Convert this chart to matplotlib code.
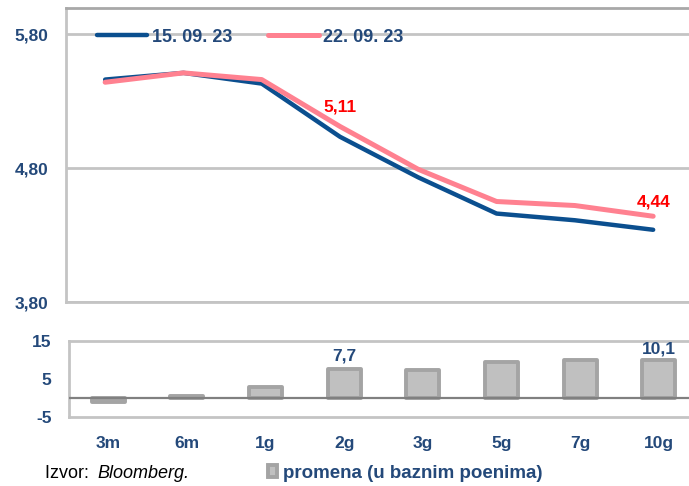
import matplotlib.pyplot as plt
import numpy as np

plt.rcParams['font.family'] = ['Liberation Sans', 'DejaVu Sans']

# tenors and yields
tenors = ["3m", "6m", "1g", "2g", "3g", "5g", "7g", "10g"]
yld_0915 = [5.46, 5.51, 5.43, 5.033, 4.73, 4.46, 4.41, 4.339]
yld_0922 = [5.44, 5.51, 5.46, 5.11, 4.79, 4.55, 4.52, 4.44]
change_bp = [-1.0, 0.5, 3.0, 7.7, 7.4, 9.5, 10.0, 10.1]

blue = "#0b4f8f"
pink = "#ff8190"
txt = "#24497a"
grid = "#c4c4c4"

fig = plt.figure(figsize=(6.89, 4.86), dpi=100)
x = np.arange(len(tenors))

# top panel - yield curves
ax = fig.add_axes([0.0958, 0.3786, 0.909, 0.6049])
ax.plot(x, yld_0915, color=blue, lw=3.2, solid_capstyle="round", label="15. 09. 23", zorder=3)
ax.plot(x, yld_0922, color=pink, lw=3.6, solid_capstyle="round", label="22. 09. 23", zorder=4)
ax.set_xlim(-0.5, len(tenors) - 0.5)
ax.set_ylim(3.8, 5.994)
ax.set_yticks([3.8, 4.8, 5.8])
ax.set_yticklabels(["3,80", "4,80", "5,80"])
ax.set_xticks([])
ax.grid(axis="y", color=grid, lw=2)
ax.set_axisbelow(True)
ax.spines["right"].set_visible(False)
for s in ["left", "bottom"]:
    ax.spines[s].set_color(grid)
    ax.spines[s].set_linewidth(2)
ax.spines["top"].set_color("#a8a8a8")
ax.spines["top"].set_linewidth(2)
ax.tick_params(axis="y", length=0, pad=12.5, labelsize=12.5, labelcolor=txt)
for t in ax.get_yticklabels():
    t.set_fontweight("bold")
ax.text(3, 5.11 + 0.09, "5,11", color="#ff0000", fontsize=12.5, fontweight="bold", ha="center", va="bottom")
ax.text(7, 4.44 + 0.05, "4,44", color="#ff0000", fontsize=12.5, fontweight="bold", ha="center", va="bottom")
leg = ax.legend(loc="upper left", bbox_to_anchor=(0.023, 0.985), ncol=2, frameon=False,
                handlelength=2.8, handletextpad=0.25, columnspacing=2.0,
                prop={"size": 13, "weight": "bold"})
for t in leg.get_texts():
    t.set_color(txt)

# bottom panel - change in bp
ax2 = fig.add_axes([0.1001, 0.142, 0.913, 0.1564])
bars = ax2.bar(x, change_bp, width=0.42, color="#c0c0c0", edgecolor="#a4a4a4", linewidth=2.8, zorder=3)
for b in bars:
    b.set_joinstyle("round")
ax2.axhline(0, color="#808080", lw=1.6, zorder=4)
ax2.set_xlim(-0.5, len(tenors) - 0.5)
ax2.set_ylim(-5, 15)
ax2.set_yticks([-5, 5, 15])
ax2.set_yticklabels(["-5", "5", "15"])
ax2.set_xticks(x)
ax2.set_xticklabels(tenors)
ax2.tick_params(axis="both", length=0, labelsize=12.5, labelcolor=txt)
ax2.tick_params(axis="y", pad=12.5)
ax2.tick_params(axis="x", pad=14)
for t in ax2.get_xticklabels() + ax2.get_yticklabels():
    t.set_fontweight("bold")
ax2.spines["right"].set_visible(False)
for s in ["left", "top", "bottom"]:
    ax2.spines[s].set_color(grid)
    ax2.spines[s].set_linewidth(2)
ax2.text(3, 7.7 + 1.5, "7,7", color=txt, fontsize=12.5, fontweight="bold", ha="center", va="bottom")
ax2.text(7, 10.1 + 0.7, "10,1", color=txt, fontsize=12.5, fontweight="bold", ha="center", va="bottom")

fig.text(0.065, 0.026, "Izvor: ", fontsize=13, color="black", va="center")
fig.text(0.141, 0.026, "Bloomberg.", fontsize=13, color="black", style="italic", va="center")
ax2.legend([bars[0]], ["promena (u baznim poenima)"], loc="center left",
           bbox_to_anchor=(0.389, 0.026), bbox_transform=fig.transFigure, frameon=False,
           handlelength=0.5, handleheight=0.6, handletextpad=0.3, borderaxespad=0, borderpad=0,
           prop={"size": 13.5, "weight": "bold"}, labelcolor=txt)

fig.savefig("out.png", dpi=100)
